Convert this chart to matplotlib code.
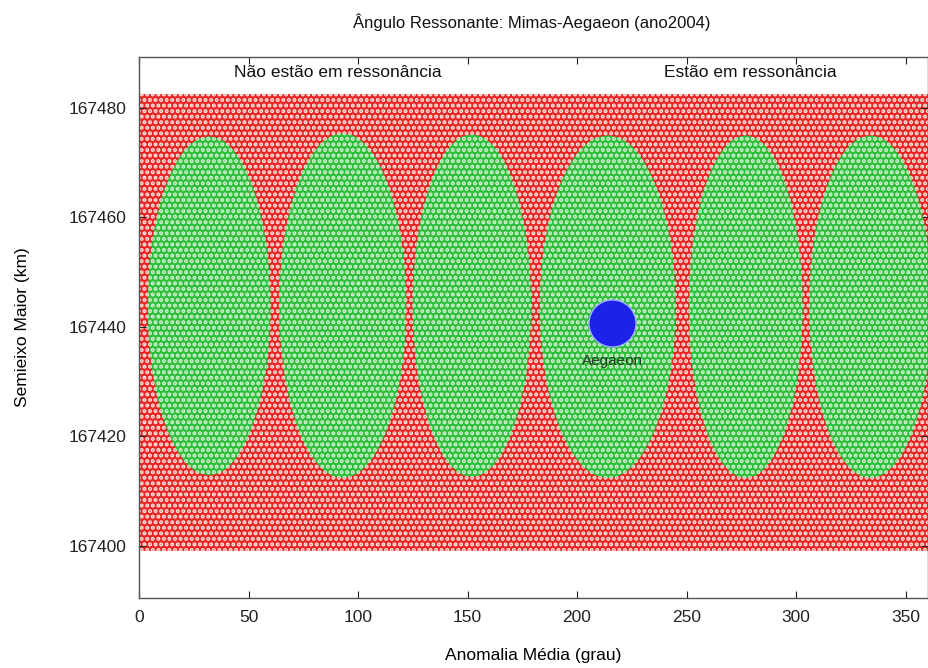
import numpy as np
import matplotlib
matplotlib.use("Agg")
import matplotlib.pyplot as plt
from matplotlib.patches import Polygon, Rectangle

plt.rcParams['font.family'] = ['Liberation Sans', 'DejaVu Sans']

# ---- data ----
band_a = [167399.0, 167482.5]          # non-resonant particle band (km)
lobe_center_deg = [32, 93, 152, 214, 277, 334]
lobe_halfwidth_deg = [28, 29, 27, 31, 26, 28]
lobe_top_km = [167474.8, 167475.4, 167475.2, 167475.0, 167475.0, 167475.0]
lobe_bottom_km = [167412.9, 167412.4, 167412.6, 167412.4, 167412.4, 167412.4]
aegaeon_deg = [216]
aegaeon_km = [167440.7]
xticks = [0, 50, 100, 150, 200, 250, 300, 350]
yticks = [167400, 167420, 167440, 167460, 167480]

W, H = 929, 668
fig = plt.figure(figsize=(W / 100, H / 100), dpi=100)
ax = fig.add_axes([139 / W, 70 / H, 788.5 / W, 541 / H])
ax.set_xlim(0, 360)
ax.set_ylim(167390.5, 167489.3)

plt.rcParams['hatch.linewidth'] = 2.0
# red band (non-resonant)
ax.add_patch(Rectangle((0, band_a[0]), 360, band_a[1] - band_a[0],
                       facecolor='#e82626', edgecolor='#fbeee6', lw=0,
                       hatch='...', zorder=1))

# green lobes (resonant)
t = np.linspace(-1, 1, 161)
for cx, hw, top, bot in zip(lobe_center_deg, lobe_halfwidth_deg, lobe_top_km, lobe_bottom_km):
    cy = (top + bot) / 2
    hh = (top - bot) / 2
    half = hw * (1 - t ** 2) ** 0.5
    xs = np.concatenate([cx + half, (cx - half)[::-1]])
    ys = np.concatenate([cy + hh * t, (cy + hh * t)[::-1]])
    ax.add_patch(Polygon(np.column_stack([xs, ys]), closed=True,
                         facecolor='#2fbf3c', edgecolor='#d9f3d9', lw=0,
                         hatch='...', zorder=2))

# Aegaeon
ax.scatter(aegaeon_deg, aegaeon_km, s=1150, color='#1c22e8', edgecolors='#9fb0ff',
           linewidths=1.0, zorder=5)
ax.text(aegaeon_deg[0], 167433.8, 'Aegaeon', ha='center', va='center',
        fontsize=11, color='#2a3a2a', zorder=6)

ax.text(90.6, 167486.4, 'Não estão em ressonância', ha='center', va='center',
        fontsize=12.5, color='#111111')
ax.text(279, 167486.4, 'Estão em ressonância', ha='center', va='center',
        fontsize=12.5, color='#111111')

ax.set_xticks(xticks)
ax.set_yticks(yticks)
ax.set_xticklabels([str(v) for v in xticks])
ax.set_yticklabels([str(v) for v in yticks])
ax.tick_params(direction='in', length=5, width=0.8, labelsize=12.5, colors='#222222',
               top=True, right=True, pad=9)
for s in ax.spines.values():
    s.set_color('#555555')
    s.set_linewidth(1.0)

ax.set_xlabel('Anomalia Média (grau)', fontsize=12.5, labelpad=16)
ax.set_ylabel('Semieixo Maior (km)', fontsize=12.5, labelpad=28)
fig.text(532 / W, 1 - 22 / H, 'Ângulo Ressonante: Mimas-Aegaeon (ano2004)',
         ha='center', va='center', fontsize=12, color='#111111')

fig.savefig('out.png', dpi=100)
